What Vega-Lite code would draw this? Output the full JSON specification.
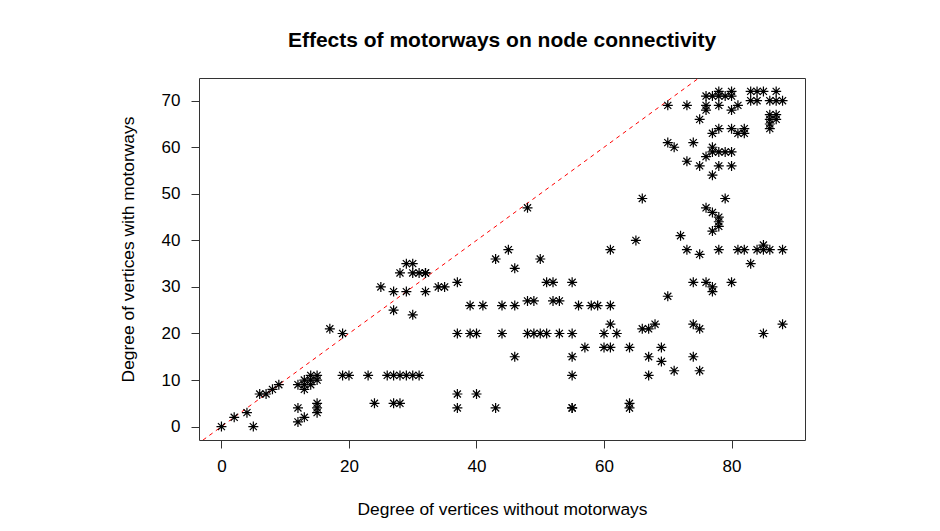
{
  "$schema": "https://vega.github.io/schema/vega-lite/v6.json",
  "width": 606,
  "height": 362,
  "autosize": {"type": "none"},
  "padding": {"left": 199, "top": 78, "right": 135, "bottom": 91},
  "background": "white",
  "config": {
    "view": {"stroke": "#333", "strokeWidth": 1},
    "font": "Liberation Sans",
    "axis": {"grid": false, "domain": false, "tickColor": "#333", "tickSize": 8, "labelFont": "Liberation Sans", "titleFont": "Liberation Sans", "labelFontSize": 17, "titleFontSize": 17.4, "labelColor": "#000", "titleColor": "#000", "titleFontWeight": "normal"}
  },
  "title": {"text": "Effects of motorways on node connectivity", "fontSize": 21, "fontWeight": "bold", "font": "Liberation Sans", "anchor": "middle", "offset": 27, "color": "#000"},
  "datasets": {
    "pts": [
      {"x":0,"y":0},{"x":2,"y":2},{"x":4,"y":3},{"x":5,"y":0},{"x":6,"y":7},{"x":7,"y":7},{"x":8,"y":8},{"x":9,"y":9},
      {"x":12,"y":4},{"x":12,"y":1},{"x":13,"y":2},{"x":12,"y":9},{"x":13,"y":8},{"x":13,"y":9},{"x":13,"y":10},{"x":14,"y":10},{"x":14,"y":11},{"x":15,"y":11},{"x":15,"y":10},{"x":14,"y":9},
      {"x":15,"y":5},{"x":15,"y":4},{"x":15,"y":3},
      {"x":17,"y":21},{"x":19,"y":20},{"x":19,"y":11},{"x":20,"y":11},
      {"x":23,"y":11},{"x":26,"y":11},{"x":27,"y":11},{"x":28,"y":11},{"x":29,"y":11},{"x":30,"y":11},{"x":31,"y":11},
      {"x":24,"y":5},{"x":27,"y":5},{"x":28,"y":5},
      {"x":29,"y":35},{"x":30,"y":35},{"x":28,"y":33},{"x":30,"y":33},{"x":31,"y":33},{"x":32,"y":33},{"x":32,"y":33},
      {"x":25,"y":30},{"x":27,"y":29},{"x":29,"y":29},{"x":32,"y":29},{"x":34,"y":30},{"x":35,"y":30},{"x":37,"y":31},
      {"x":27,"y":25},{"x":30,"y":24},
      {"x":39,"y":26},{"x":41,"y":26},{"x":44,"y":26},
      {"x":37,"y":20},{"x":39,"y":20},{"x":40,"y":20},{"x":44,"y":20},
      {"x":43,"y":36},{"x":45,"y":38},
      {"x":37,"y":7},{"x":40,"y":7},{"x":37,"y":4},{"x":43,"y":4},
      {"x":50,"y":36},{"x":46,"y":34},{"x":51,"y":31},{"x":52,"y":31},{"x":55,"y":31},
      {"x":46,"y":26},{"x":48,"y":27},{"x":49,"y":27},{"x":52,"y":27},{"x":53,"y":27},{"x":56,"y":26},{"x":58,"y":26},{"x":59,"y":26},{"x":61,"y":26},
      {"x":48,"y":20},{"x":49,"y":20},{"x":50,"y":20},{"x":51,"y":20},{"x":53,"y":20},{"x":55,"y":20},{"x":60,"y":20},{"x":62,"y":20},
      {"x":61,"y":22},{"x":57,"y":17},{"x":60,"y":17},{"x":61,"y":17},{"x":64,"y":17},
      {"x":46,"y":15},{"x":55,"y":15},{"x":55,"y":11},{"x":55,"y":4},{"x":55,"y":4},{"x":64,"y":5},{"x":64,"y":4},
      {"x":66,"y":21},{"x":67,"y":21},{"x":68,"y":22},{"x":67,"y":15},{"x":69,"y":14},{"x":67,"y":11},{"x":69,"y":17},
      {"x":83,"y":35},{"x":74,"y":31},{"x":76,"y":31},{"x":77,"y":30},{"x":77,"y":29},{"x":80,"y":31},{"x":70,"y":28},
      {"x":74,"y":22},{"x":75,"y":21},{"x":85,"y":20},{"x":88,"y":22},
      {"x":71,"y":12},{"x":74,"y":15},{"x":75,"y":12},
      {"x":48,"y":47},{"x":66,"y":49},{"x":61,"y":38},{"x":65,"y":40},
      {"x":70,"y":69},{"x":73,"y":69},{"x":76,"y":69},{"x":76,"y":68},{"x":76,"y":71},{"x":75,"y":66},{"x":77,"y":71},{"x":78,"y":72},{"x":78,"y":71},{"x":78,"y":69},{"x":79,"y":71},{"x":80,"y":72},{"x":80,"y":71},{"x":80,"y":68},{"x":81,"y":69},
      {"x":83,"y":72},{"x":84,"y":72},{"x":85,"y":72},{"x":87,"y":72},{"x":83,"y":70},{"x":84,"y":70},{"x":86,"y":70},{"x":87,"y":70},{"x":88,"y":70},
      {"x":86,"y":67},{"x":86,"y":65},{"x":87,"y":66},{"x":86,"y":64},{"x":87,"y":67},{"x":86,"y":66},
      {"x":78,"y":64},{"x":80,"y":64},{"x":82,"y":64},{"x":77,"y":63},{"x":81,"y":63},{"x":82,"y":63},
      {"x":70,"y":61},{"x":71,"y":60},{"x":74,"y":61},{"x":77,"y":60},{"x":77,"y":59},{"x":78,"y":59},{"x":79,"y":59},{"x":80,"y":59},{"x":76,"y":58},{"x":73,"y":57},{"x":75,"y":56},{"x":78,"y":56},{"x":80,"y":56},{"x":77,"y":54},
      {"x":79,"y":49},{"x":76,"y":47},{"x":77,"y":46},{"x":78,"y":45},{"x":78,"y":44},{"x":78,"y":43},{"x":77,"y":42},{"x":72,"y":41},
      {"x":73,"y":38},{"x":75,"y":37},{"x":78,"y":38},{"x":81,"y":38},{"x":82,"y":38},{"x":84,"y":38},{"x":85,"y":39},{"x":85,"y":38},{"x":86,"y":38},{"x":88,"y":38}
    ],
    "diag": [{"x": -10, "y": -10}, {"x": 100, "y": 100}]
  },
  "layer": [
    {
      "data": {"name": "diag"},
      "mark": {"type": "line", "color": "#ff0000", "strokeWidth": 1, "strokeDash": [4, 4], "clip": true},
      "encoding": {
        "x": {"field": "x", "type": "quantitative"},
        "y": {"field": "y", "type": "quantitative"}
      }
    },
    {
      "data": {"name": "pts"},
      "mark": {"type": "point", "shape": "M-1,0L1,0M0,-1L0,1M-0.7071,-0.7071L0.7071,0.7071M-0.7071,0.7071L0.7071,-0.7071", "filled": false, "stroke": "#000", "strokeWidth": 1.2, "opacity": 1, "size": 100},
      "encoding": {
        "x": {"field": "x", "type": "quantitative", "scale": {"domain": [-3.52, 91.52], "nice": false, "zero": false}, "axis": {"values": [0, 20, 40, 60, 80], "title": "Degree of vertices without motorways", "labelPadding": 10, "titlePadding": 26}},
        "y": {"field": "y", "type": "quantitative", "scale": {"domain": [-2.88, 74.88], "nice": false, "zero": false}, "axis": {"values": [0, 10, 20, 30, 40, 50, 60, 70], "title": "Degree of vertices with motorways", "labelPadding": 11, "titlePadding": 24, "labelAngle": 0, "titleY": 171}}
      }
    }
  ]
}
